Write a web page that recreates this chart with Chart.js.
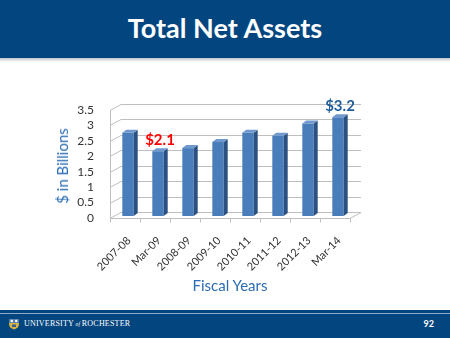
<!DOCTYPE html>
<html>
<head>
<meta charset="utf-8">
<script src="https://cdn.jsdelivr.net/npm/chart.js@4/dist/chart.umd.min.js"></script>
<style>
  html, body { margin: 0; padding: 0; }
  body { width: 450px; height: 338px; position: relative; overflow: hidden; background: #fff; font-family: Lato, "Open Sans", sans-serif; }
  .header { position: absolute; left: 0; top: 0; width: 450px; height: 58px; background: #03467F; }
  .header h1 { margin: 0; color: #fff; font: bold 27px Lato, sans-serif; text-align: center; line-height: 56px; }
  .header-shadow { position: absolute; left: 0; top: 58px; width: 450px; height: 4px; background: linear-gradient(#bfc3c8, #ffffff); }
  .footer { position: absolute; left: 0; top: 310px; width: 450px; height: 28px; background: #03467F; }
  .footer .rule { position: absolute; left: 0; top: 3px; width: 450px; height: 1px; background: #8EA8C8; }
  .footer .brand { position: absolute; left: 24px; top: 9px; color: #fff; font: 8px "Liberation Serif", "DejaVu Serif", serif; letter-spacing: 0.2px; white-space: nowrap; }
  .footer .brand i { font-size: 5.5px; }
  .footer .page { position: absolute; right: 16px; top: 8px; color: #fff; font: bold 9px Lato, sans-serif; }
  .footer svg { position: absolute; left: 8px; top: 8px; }
  .wrap { position: absolute; left: 0; top: 0; width: 450px; height: 338px; z-index: 2; }
  .ytitle { position: absolute; left: 62px; top: 166px; transform: translate(-50%, -50%) rotate(-90deg); color: #2A6CB5; font: 15px Lato, sans-serif; white-space: nowrap; z-index: 3; }
  .xtitle { position: absolute; left: 230px; top: 285px; transform: translate(-50%, -50%); color: #2A6CB5; font: 15px Lato, sans-serif; white-space: nowrap; z-index: 3; }
</style>
</head>
<body>
<div class="header"><h1>Total Net Assets</h1></div>
<div class="header-shadow"></div>

<div class="ytitle">$ in Billions</div>
<div class="xtitle">Fiscal Years</div>

<div class="wrap"><canvas id="chart"></canvas></div>

<div class="footer">
  <div class="rule"></div>
  <svg width="12" height="12" viewBox="0 0 12 12">
    <path d="M1 1 H11 V6 Q11 10 6 11.5 Q1 10 1 6 Z" fill="#D8B540"/>
    <rect x="1" y="1" width="10" height="4" fill="#5A7FA8"/>
    <circle cx="3.8" cy="3" r="1.2" fill="#fff"/>
    <circle cx="8.2" cy="3" r="1.2" fill="#fff"/>
    <rect x="4" y="6.5" width="4" height="2.5" fill="#3C5F8A"/>
  </svg>
  <div class="brand">UNIVERSITY<i> of </i>ROCHESTER</div>
  <div class="page">92</div>
</div>

<script>
// Fiscal periods and total net assets ($ billions)
const categories = ['2007-08', 'Mar-09', '2008-09', '2009-10', '2010-11', '2011-12', '2012-13', 'Mar-14'];
const netAssets = [2.7, 2.1, 2.2, 2.4, 2.7, 2.6, 3.0, 3.2];
const yTickValues = [0, 0.5, 1, 1.5, 2, 2.5, 3, 3.5];
// Bars that carry a value callout, and the callout colour
const calloutIndexes = [1, 7];
const calloutColors = ['#FF0000', '#1F5C99'];

const depth = { x: 11, y: -6 };      // back wall offset
const barDepth = { x: 4, y: -3 };    // bar side/top face
const barShift = { x: 3, y: -2 };    // bars sit mid-depth

const wall3d = {
  id: 'wall3d',
  beforeDatasetsDraw(chart) {
    const { ctx, chartArea: a, scales: { y } } = chart;
    ctx.save();
    ctx.strokeStyle = '#BFBFBF';
    ctx.lineWidth = 1;
    // gridlines: side wall diagonal + back wall horizontal
    yTickValues.forEach(v => {
      const py = Math.round(y.getPixelForValue(v)) + 0.5;
      ctx.beginPath();
      ctx.moveTo(a.left, py);
      ctx.lineTo(a.left + depth.x, py + depth.y);
      ctx.lineTo(a.right + depth.x, py + depth.y);
      ctx.stroke();
    });
    // left axis edge
    const lx = Math.round(a.left) + 0.5;
    ctx.beginPath();
    ctx.moveTo(lx, y.getPixelForValue(yTickValues[yTickValues.length - 1]));
    ctx.lineTo(lx, y.getPixelForValue(0));
    ctx.stroke();
    // floor front and right edges
    const by = Math.round(y.getPixelForValue(0)) + 0.5;
    ctx.beginPath();
    ctx.moveTo(a.left, by);
    ctx.lineTo(a.right, by);
    ctx.lineTo(a.right + depth.x, by + depth.y);
    ctx.stroke();
    // category tick marks along the floor edge
    const step = (a.right - a.left) / categories.length;
    for (let i = 0; i <= categories.length; i++) {
      const tx = Math.round(a.left + i * step) + 0.5;
      ctx.beginPath();
      ctx.moveTo(tx, by);
      ctx.lineTo(tx, by + 4);
      ctx.stroke();
    }
    ctx.restore();
    ctx.save();
    ctx.translate(barShift.x, barShift.y);
  },
  afterDatasetsDraw(chart) {
    const { ctx } = chart;
    const meta = chart.getDatasetMeta(0);
    meta.data.forEach(bar => {
      const x0 = bar.x - bar.width / 2, x1 = bar.x + bar.width / 2;
      const top = bar.y, base = bar.base;
      // side face
      ctx.fillStyle = '#2B5183';
      ctx.beginPath();
      ctx.moveTo(x1, top);
      ctx.lineTo(x1 + barDepth.x, top + barDepth.y);
      ctx.lineTo(x1 + barDepth.x, base + barDepth.y);
      ctx.lineTo(x1, base);
      ctx.closePath();
      ctx.fill();
      // top face
      ctx.fillStyle = '#6F98CE';
      ctx.beginPath();
      ctx.moveTo(x0, top);
      ctx.lineTo(x1, top);
      ctx.lineTo(x1 + barDepth.x, top + barDepth.y);
      ctx.lineTo(x0 + barDepth.x, top + barDepth.y);
      ctx.closePath();
      ctx.fill();
    });
    // value callouts
    ctx.font = 'bold 15px Lato, sans-serif';
    ctx.textAlign = 'center';
    ctx.textBaseline = 'middle';
    calloutIndexes.forEach((idx, k) => {
      const bar = meta.data[idx];
      ctx.fillStyle = calloutColors[k];
      ctx.fillText('$' + netAssets[idx].toFixed(1), bar.x + 2, bar.y + barDepth.y - 8);
    });
    ctx.restore();
  }
};

new Chart(document.getElementById('chart'), {
  type: 'bar',
  data: {
    labels: categories,
    datasets: [{
      data: netAssets,
      backgroundColor: '#4A7EBB',
      borderWidth: 0,
      categoryPercentage: 1,
      barPercentage: 0.38
    }]
  },
  options: {
    responsive: true,
    maintainAspectRatio: false,
    animation: false,
    devicePixelRatio: 1,
    layout: { padding: { left: 70, right: 100, top: 110, bottom: 40 } },
    plugins: { legend: { display: false }, tooltip: { enabled: false } },
    scales: {
      x: {
        grid: { display: false },
        border: { display: false },
        ticks: { minRotation: 45, maxRotation: 45, autoSkip: false, padding: 8, labelOffset: 4, color: '#333', font: { family: 'Lato', size: 11 } },
        afterFit(s) { s.height = 80; }
      },
      y: {
        min: 0,
        max: 3.5,
        afterBuildTicks(s) { s.ticks = yTickValues.map(v => ({ value: v })); },
        grid: { display: false },
        border: { display: false },
        ticks: { autoSkip: false, padding: 8, color: '#333', font: { family: 'Lato', size: 12 }, callback: v => String(v) },
        afterFit(s) { s.width = 40; }
      }
    }
  },
  plugins: [wall3d]
});
</script>
</body>
</html>
